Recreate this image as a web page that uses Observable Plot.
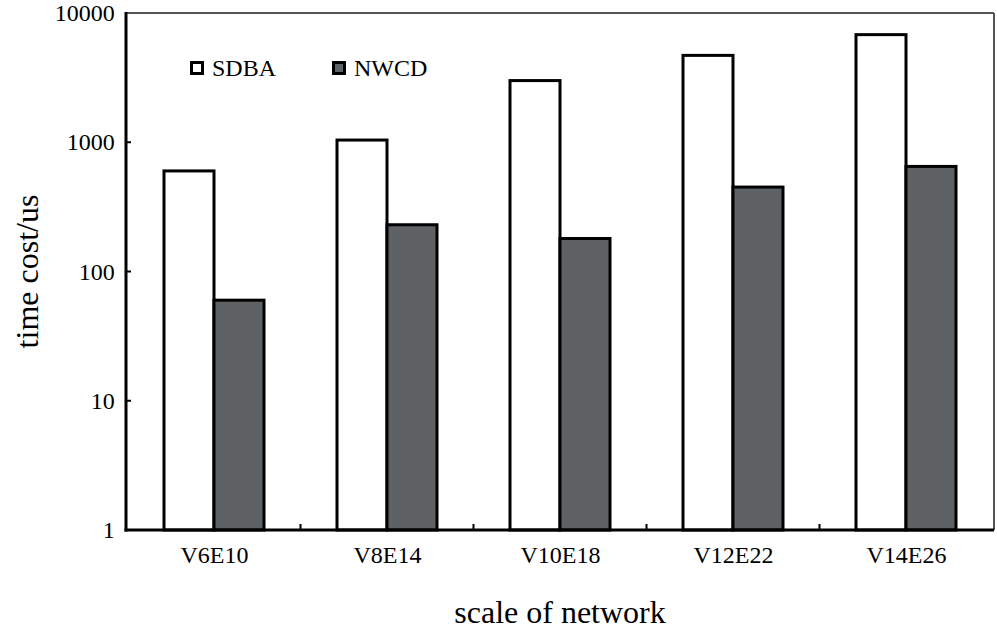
<!DOCTYPE html>
<html>
<head>
<meta charset="utf-8">
<script src="https://cdn.jsdelivr.net/npm/d3@7"></script>
<script src="https://cdn.jsdelivr.net/npm/@observablehq/plot@0.6"></script>
<style>
  html, body { margin: 0; padding: 0; background: #fff; }
  #chart { width: 997px; height: 631px; }
</style>
</head>
<body>
<div id="chart"></div>
<script>
const categories = ["V6E10", "V8E14", "V10E18", "V12E22", "V14E26"];
const series = ["SDBA", "NWCD"];
const sdba = [600, 1040, 3000, 4700, 6800];
const nwcd = [60, 230, 180, 450, 650];
const yTicks = [1, 10, 100, 1000, 10000];
const colors = ["#ffffff", "#5f6265"];
const xTitle = "scale of network";
const yTitle = "time cost/us";

const data = categories.flatMap((c, i) => [
  {cat: c, series: series[0], value: sdba[i]},
  {cat: c, series: series[1], value: nwcd[i]}
]);

const W = 997, H = 631;
const mL = 126, mR = 3, mT = 13, mB = 101;
const padIn = 0.424, padOut = 0.212;
const outerGap = padOut * (W - mL - mR) / categories.length;
const font = "Liberation Serif, Times New Roman, serif";

const svg = Plot.plot({
  width: W,
  height: H,
  marginLeft: mL,
  marginRight: mR,
  marginTop: mT,
  marginBottom: mB,
  style: {fontFamily: font, fontSize: "24px", color: "#000", background: "#fff", overflow: "visible"},
  fx: {domain: categories, paddingInner: padIn, paddingOuter: padOut, label: null},
  x: {domain: series, padding: 0, axis: null},
  y: {type: "log", domain: [1, 10000], label: null},
  color: {domain: series, range: colors},
  marks: [
    Plot.barY(data, {
      fx: "cat", x: "series", y1: 1, y2: "value",
      fill: "series", stroke: "#000", strokeWidth: 3, strokeLinejoin: "miter"
    }),
    Plot.axisY({ticks: yTicks, tickSize: 0, tickPadding: 13 + outerGap, textAnchor: "end", tickFormat: d => String(d), fontSize: 24}),
    Plot.axisFx({anchor: "bottom", tickSize: 0, tickPadding: 15, fontSize: 24, label: null})
  ]
});

const y = svg.scale("y");
const fx = svg.scale("fx");
const s = d3.select(svg);
const x0 = mL, y0 = y.apply(1), yTop = y.apply(10000);
const xRight = 994;

s.append("line").attr("x1", x0).attr("x2", xRight).attr("y1", yTop).attr("y2", yTop)
  .attr("stroke", "#555").attr("stroke-width", 2);
s.append("line").attr("x1", xRight).attr("x2", xRight).attr("y1", yTop).attr("y2", y0)
  .attr("stroke", "#555").attr("stroke-width", 2);
s.append("line").attr("x1", x0).attr("x2", x0).attr("y1", yTop - 1).attr("y2", y0 + 1.5)
  .attr("stroke", "#000").attr("stroke-width", 3);
s.append("line").attr("x1", x0 - 1.5).attr("x2", xRight).attr("y1", y0).attr("y2", y0)
  .attr("stroke", "#000").attr("stroke-width", 3);

yTicks.slice(1, -1).forEach(t => {
  const yy = y.apply(t);
  s.append("line").attr("x1", x0).attr("x2", x0 + 5).attr("y1", yy).attr("y2", yy)
    .attr("stroke", "#000").attr("stroke-width", 2);
});

const gap = (fx.step - fx.bandwidth) / 2;
categories.slice(1).forEach(c => {
  const xx = fx.apply(c) - gap;
  s.append("line").attr("x1", xx).attr("x2", xx).attr("y1", y0).attr("y2", y0 - 6)
    .attr("stroke", "#000").attr("stroke-width", 2);
});

s.append("text").attr("x", (x0 + xRight) / 2).attr("y", 623)
  .attr("text-anchor", "middle").attr("font-family", font).attr("font-size", 32)
  .attr("fill", "#000").text(xTitle);
s.append("text").attr("transform", `translate(38,${(yTop + y0) / 2}) rotate(-90)`)
  .attr("text-anchor", "middle").attr("font-family", font).attr("font-size", 32)
  .attr("fill", "#000").text(yTitle);

const legendX = [190, 332], legendY = 68;
series.forEach((name, i) => {
  const g = s.append("g");
  g.append("rect").attr("x", legendX[i] + 1.5).attr("y", legendY - 5.5).attr("width", 11).attr("height", 11)
    .attr("fill", colors[i]).attr("stroke", "#000").attr("stroke-width", 3);
  g.append("text").attr("x", legendX[i] + 22).attr("y", legendY).attr("dy", "0.33em")
    .attr("text-anchor", "start")
    .attr("font-family", font).attr("font-size", 24).attr("fill", "#000").text(name);
});

document.getElementById("chart").appendChild(svg);
</script>
</body>
</html>
